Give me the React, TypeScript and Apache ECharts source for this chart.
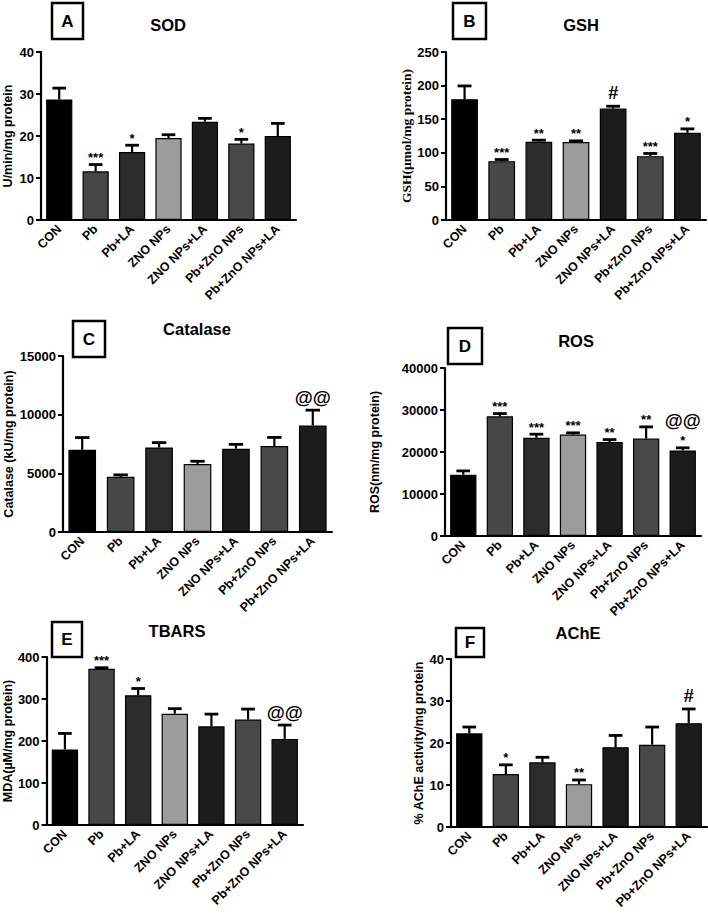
import React, { useEffect, useRef } from 'react';
import * as echarts from 'echarts';

const categories = ['CON', 'Pb', 'Pb+LA', 'ZNO NPs', 'ZNO NPs+LA', 'Pb+ZnO NPs', 'Pb+ZnO NPs+LA'];
const barColors = ['#000000', '#474747', '#2c2c2c', '#9c9c9c', '#1c1c1c', '#484848', '#1c1c1c'];

// A: SOD
const sodMean = [28.7, 11.6, 16.2, 19.5, 23.4, 18.2, 20.0];
const sodSem = [2.7, 1.6, 1.6, 0.8, 0.8, 1.0, 3.0];
const sodStars = ['', '***', '*', '', '', '*', ''];
const sodMarks = ['', '', '', '', '', '', ''];

// B: GSH
const gshMean = [179.7, 87.6, 116.3, 116.0, 165.8, 95.0, 129.7];
const gshSem = [19.8, 2.4, 2.5, 1.8, 3.5, 4.0, 5.9];
const gshStars = ['', '***', '**', '**', '', '***', '*'];
const gshMarks = ['', '', '', '', '#', '', ''];

// C: Catalase
const catMean = [7000, 4700, 7200, 5800, 7100, 7330, 9085];
const catSem = [1050, 170, 420, 230, 370, 730, 1300];
const catStars = ['', '', '', '', '', '', ''];
const catMarks = ['', '', '', '', '', '', '@@'];

// D: ROS
const rosMean = [14600, 28500, 23370, 24160, 22400, 23200, 20360];
const rosSem = [900, 650, 870, 400, 560, 2780, 630];
const rosStars = ['', '***', '***', '***', '**', '**', '*'];
const rosMarks = ['', '', '', '', '', '', '@@'];

// E: TBARS
const tbarsMean = [180, 372, 309, 265, 235, 251, 205];
const tbarsSem = [38, 2.5, 16, 12, 29, 25, 33];
const tbarsStars = ['', '***', '*', '', '', '', ''];
const tbarsMarks = ['', '', '', '', '', '', '@@'];

// F: AChE
const acheMean = [22.3, 12.6, 15.4, 10.2, 19.0, 19.6, 24.7];
const acheSem = [1.5, 2.2, 1.2, 1.0, 2.8, 4.2, 3.4];
const acheStars = ['', '*', '', '**', '', '', ''];
const acheMarks = ['', '', '', '', '', '', '#'];

const panelData = [
  { letter: 'A', title: 'SOD', yName: 'U/min/mg protein', max: 40, interval: 10, mean: sodMean, sem: sodSem, stars: sodStars, marks: sodMarks },
  { letter: 'B', title: 'GSH', yName: 'GSH(µmol/mg protein)', max: 250, interval: 50, mean: gshMean, sem: gshSem, stars: gshStars, marks: gshMarks },
  { letter: 'C', title: 'Catalase', yName: 'Catalase (kU/mg protein)', max: 15000, interval: 5000, mean: catMean, sem: catSem, stars: catStars, marks: catMarks },
  { letter: 'D', title: 'ROS', yName: 'ROS(nm/mg protein)', max: 40000, interval: 10000, mean: rosMean, sem: rosSem, stars: rosStars, marks: rosMarks },
  { letter: 'E', title: 'TBARS', yName: 'MDA(µM/mg protein)', max: 400, interval: 100, mean: tbarsMean, sem: tbarsSem, stars: tbarsStars, marks: tbarsMarks },
  { letter: 'F', title: 'AChE', yName: '% AChE activity/mg protein', max: 40, interval: 10, mean: acheMean, sem: acheSem, stars: acheStars, marks: acheMarks },
];

const layouts = [
  { grid: { left: 41, top: 52, width: 255, height: 168 }, box: [52, 3, 31, 36], title: [168, 25], nameGap: 27, serif: false },
  { grid: { left: 446, top: 52, width: 260, height: 168 }, box: [453, 3, 33, 36], title: [581, 25], nameGap: 30, serif: true },
  { grid: { left: 63, top: 356, width: 269, height: 176 }, box: [73, 321, 32, 36], title: [197, 329], nameGap: 47, serif: false },
  { grid: { left: 445, top: 368, width: 256, height: 168 }, box: [448, 328, 34, 36], title: [576, 341], nameGap: 64, serif: false },
  { grid: { left: 44, top: 657, width: 259, height: 168 }, box: [52, 622, 30, 35], title: [177, 631], nameGap: 30, serif: false },
  { grid: { left: 451, top: 659, width: 256, height: 168 }, box: [456, 628, 28, 29], title: [578, 633], nameGap: 26, serif: false },
];

const SANS = '"Liberation Sans", Arial, sans-serif';
const SERIF = '"Liberation Serif", "Times New Roman", serif';

function buildOption() {
  const grid: any[] = [];
  const xAxis: any[] = [];
  const yAxis: any[] = [];
  const series: any[] = [];
  const graphic: any[] = [];

  panelData.forEach((p, i) => {
    const l = layouts[i];
    grid.push({ ...l.grid, containLabel: false });
    xAxis.push({
      type: 'category',
      gridIndex: i,
      data: categories,
      axisLine: { lineStyle: { color: '#000', width: 2.2 } },
      axisTick: { alignWithLabel: true, length: 5, lineStyle: { color: '#000', width: 2 } },
      axisLabel: { rotate: 45, interval: 0, fontWeight: 'bold', fontSize: 12.5, color: '#000', margin: 7, fontFamily: SANS },
    });
    yAxis.push({
      type: 'value',
      gridIndex: i,
      min: 0,
      max: p.max,
      interval: p.interval,
      name: p.yName,
      nameLocation: 'middle',
      nameGap: l.nameGap,
      nameTextStyle: { fontWeight: 'bold', fontSize: l.serif ? 13.5 : 12.5, color: '#000', fontFamily: l.serif ? SERIF : SANS },
      axisLine: { show: true, lineStyle: { color: '#000', width: 2.2 } },
      axisTick: { show: true, length: 5, lineStyle: { color: '#000', width: 2 } },
      splitLine: { show: false },
      axisLabel: { fontWeight: 'bold', fontSize: 13, color: '#000', margin: 7, fontFamily: SANS, formatter: (v: number) => String(v) },
    });
    series.push({
      type: 'bar',
      xAxisIndex: i,
      yAxisIndex: i,
      barWidth: '72%',
      itemStyle: { borderColor: '#000', borderWidth: 1.2 },
      data: p.mean.map((v, j) => ({ value: v, itemStyle: { color: barColors[j] } })),
    });
    const stars = p.stars;
    const marks = p.marks;
    series.push({
      type: 'custom',
      xAxisIndex: i,
      yAxisIndex: i,
      z: 5,
      encode: { x: 0, y: [1, 2] },
      data: p.mean.map((v, j) => [j, v, v + p.sem[j]]),
      renderItem: (params: any, api: any) => {
        const idx = api.value(0);
        const mean = api.value(1);
        const top = api.value(2);
        const p0 = api.coord([idx, mean]);
        const p1 = api.coord([idx, top]);
        const bw = api.size([1, 0])[0] * 0.72;
        const half = bw * 0.26;
        const children: any[] = [
          { type: 'line', shape: { x1: p0[0], y1: p0[1], x2: p1[0], y2: p1[1] }, style: { stroke: '#000', lineWidth: 2.2 } },
          { type: 'line', shape: { x1: p1[0] - half, y1: p1[1], x2: p1[0] + half, y2: p1[1] }, style: { stroke: '#000', lineWidth: 2.8 } },
        ];
        const s = stars[idx];
        const m = marks[idx];
        if (s) {
          children.push({
            type: 'text',
            style: { text: s, x: p1[0], y: p1[1] - 7, align: 'center', verticalAlign: 'middle', fontSize: 13, fontWeight: 'bold', fill: '#000', fontFamily: SANS },
          });
        }
        if (m) {
          const cy = s ? p1[1] - 27 : p1[1] - 13;
          children.push({
            type: 'text',
            style: { text: m, x: p1[0], y: cy, align: 'center', verticalAlign: 'middle', fontSize: m === '#' ? 18 : 18.5, fontWeight: 'bold', fill: '#000', fontFamily: SANS },
          });
        }
        return { type: 'group', children };
      },
    });

    const [bx, by, bw, bh] = l.box;
    graphic.push({
      type: 'rect',
      shape: { x: bx, y: by, width: bw, height: bh },
      style: { fill: '#fff', stroke: '#000', lineWidth: 2.5 },
      z: 10,
    });
    graphic.push({
      type: 'text',
      x: bx + bw / 2,
      y: by + bh / 2,
      style: { text: p.letter, align: 'center', verticalAlign: 'middle', fontSize: 17, fontWeight: 'bold', fill: '#000', fontFamily: SANS },
      z: 11,
    });
    graphic.push({
      type: 'text',
      x: l.title[0],
      y: l.title[1],
      style: { text: p.title, align: 'center', verticalAlign: 'middle', fontSize: 16.5, fontWeight: 'bold', fill: '#000', fontFamily: SANS },
      z: 11,
    });
  });

  return {
    animation: false,
    backgroundColor: '#ffffff',
    grid,
    xAxis,
    yAxis,
    series,
    graphic,
  };
}

export default function App() {
  const ref = useRef<HTMLDivElement>(null);
  useEffect(() => {
    if (!ref.current) return;
    const chart = echarts.init(ref.current, null, { renderer: 'svg' });
    chart.setOption(buildOption());
    return () => chart.dispose();
  }, []);
  return <div ref={ref} style={{ position: 'absolute', left: 0, top: 0, width: 708, height: 917 }} />;
}
